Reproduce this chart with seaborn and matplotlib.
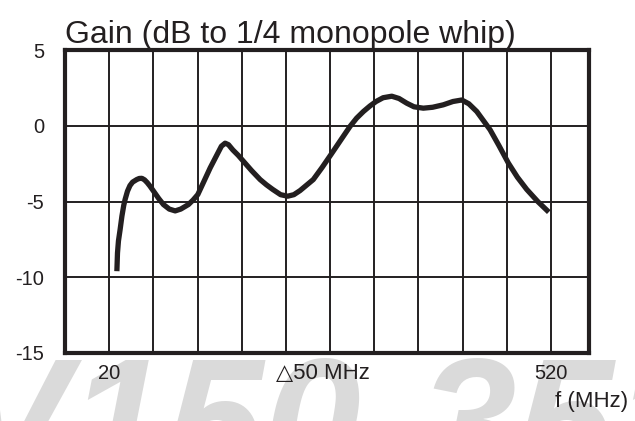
import matplotlib
matplotlib.use("Agg")
import matplotlib.pyplot as plt
import seaborn as sns

# Curve (f in MHz, gain in dB)
freq = [28.7, 29.4, 30.5, 32.4, 34.4, 36.5, 38.0, 40.7, 43.5, 46.5, 51.2,
        54.0, 57.0, 60.0, 63.0, 66.0, 70.0, 76.0, 81.4, 88.0, 94.7, 101.0,
        109.7, 115.0, 120.3, 127.0, 134.3, 143.0, 147.0, 151.2, 155.0, 160.0,
        166.0, 172.0, 181.0, 190.8, 198.0, 205.0, 214.0, 222.0, 229.0, 236.0,
        251.0, 261.0, 271.0, 282.0, 292.6, 300.0, 307.7, 315.0, 322.0, 330.0,
        339.8, 348.0, 356.7, 365.0, 375.5, 386.0, 398.0, 409.0, 419.0, 427.0,
        436.0, 451.0, 461.0, 471.7, 482.0, 492.5, 505.0, 517.5]
gain = [-9.6, -8.4, -7.6, -6.84, -5.97, -5.25, -4.87, -4.32, -3.95, -3.72, -3.55,
        -3.48, -3.47, -3.57, -3.75, -3.97, -4.3, -4.8, -5.2, -5.5, -5.62, -5.5,
        -5.2, -4.9, -4.54, -3.7, -2.78, -1.8, -1.35, -1.15, -1.25, -1.6,
        -1.95, -2.35, -2.95, -3.55, -3.9, -4.2, -4.55, -4.65, -4.55, -4.28,
        -3.55, -2.75, -1.9, -0.95, -0.04, 0.5, 0.94, 1.3, 1.6, 1.85,
        1.95, 1.8, 1.49, 1.25, 1.16, 1.22, 1.38, 1.6, 1.7, 1.45,
        0.94, -0.26, -1.3, -2.46, -3.4, -4.2, -5.0, -5.7]

x_ticks = list(range(20, 521, 50))
x_labels = ["20", "", "", "", "", "", "", "", "", "", "520"]
y_ticks = [-15, -10, -5, 0, 5]
y_labels = ["-15", "-10", "-5", "0", "5"]

ink = "#231f20"

sns.set_theme(style="white")
plt.rcParams["font.family"] = ["Liberation Sans", "DejaVu Sans"]

fig = plt.figure(figsize=(6.35, 4.21), dpi=100)
ax = fig.add_axes([65 / 635, 1 - 353 / 421, 524 / 635, 303 / 421])

# faint watermark behind everything
fig.text(-0.075, -0.14, "V150-351", fontsize=126, fontweight="bold",
         fontstyle="italic", color="#dadada", ha="left", va="baseline",
         zorder=-10)

sns.lineplot(x=freq, y=gain, ax=ax, color=ink, linewidth=3.8,
             sort=False, estimator=None, zorder=5)
ax.lines[-1].set_solid_capstyle("butt")
ax.lines[-1].set_solid_joinstyle("round")

ax.set_xlim(-30, 563)
ax.set_ylim(-15, 5)
ax.set_xticks(x_ticks)
ax.set_xticklabels(x_labels)
ax.set_yticks(y_ticks)
ax.set_yticklabels(y_labels)
ax.tick_params(axis="both", length=0, labelsize=14.5, colors=ink)
ax.tick_params(axis="y", pad=15)
ax.tick_params(axis="x", pad=8)
ax.grid(True, color=ink, linewidth=1.4)
ax.set_axisbelow(True)
for side in ax.spines.values():
    side.set_visible(True)
    side.set_color(ink)
    side.set_linewidth(3)

ax.set_xlabel("")
ax.set_ylabel("")
ax.set_title("Gain (dB to 1/4 monopole whip)", loc="left", fontsize=23,
             color=ink, pad=5)

# step label and axis name under the frame
ax.annotate("\u25b350 MHz", xy=(209, 0), xycoords=("data", "axes fraction"),
            xytext=(0, -7.5), textcoords="offset points", ha="left", va="top",
            fontsize=16, color=ink)
fig.text(628 / 635, 1 - 402 / 421, "f (MHz)", ha="right", va="center",
         fontsize=16, color=ink)

fig.savefig("out.png", dpi=100)
